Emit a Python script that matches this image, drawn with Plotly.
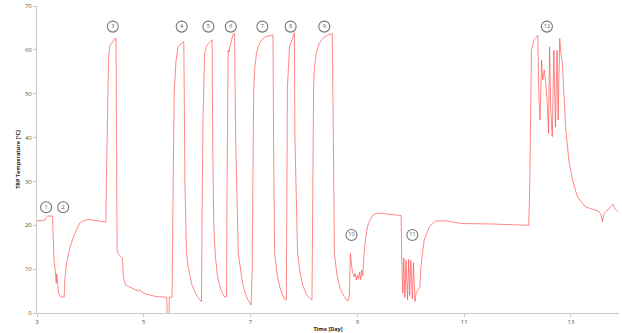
import plotly.graph_objects as go

time_day = [
    3.00, 3.10, 3.15, 3.18, 3.20, 3.29, 3.30, 3.32, 3.34, 3.355, 3.36, 3.37, 3.38, 3.40, 3.42, 3.44, 3.51,
    3.52, 3.555, 3.62, 3.71, 3.80, 3.88, 3.96, 4.10, 4.29,
    4.30, 4.32, 4.34, 4.36, 4.42, 4.46, 4.48, 4.50, 4.54, 4.58, 4.60, 4.62, 4.66, 4.72, 4.79, 4.85,
    4.90, 4.93, 4.96, 5.02, 5.10, 5.21, 5.30, 5.43, 5.44, 5.47, 5.48, 5.53,
    5.55, 5.57, 5.60, 5.64, 5.68, 5.71, 5.75, 5.77, 5.80, 5.83, 5.86, 5.90, 5.95, 6.00, 6.05, 6.08,
    6.09, 6.11, 6.14, 6.18, 6.23, 6.26, 6.28, 6.29, 6.31, 6.34, 6.38, 6.42, 6.46, 6.51, 6.55,
    6.56, 6.58, 6.60, 6.61, 6.65, 6.68, 6.70, 6.72, 6.77, 6.81, 6.85, 6.90, 6.95, 7.01,
    7.03, 7.05, 7.06, 7.08, 7.11, 7.15, 7.20, 7.28, 7.36, 7.42, 7.43, 7.45, 7.50, 7.55, 7.60, 7.65, 7.67,
    7.68, 7.69, 7.73, 7.78, 7.82, 7.83, 7.88, 7.93, 7.98, 8.05, 8.13, 8.15,
    8.17, 8.18, 8.20, 8.23, 8.28, 8.35, 8.43, 8.51, 8.53, 8.55, 8.57, 8.62, 8.68, 8.75, 8.82,
    8.85, 8.87, 8.89, 8.91, 8.94, 8.96, 8.98, 9.00, 9.02, 9.04, 9.06, 9.08, 9.10,
    9.13, 9.16, 9.19, 9.24, 9.29, 9.35, 9.41, 9.60, 9.82,
    9.83, 9.85, 9.87, 9.89, 9.91, 9.94, 9.96, 9.98, 10.00, 10.03, 10.05, 10.08, 10.10, 10.12, 10.15, 10.17,
    10.19, 10.25, 10.35, 10.47, 10.66, 10.97, 11.50, 12.00, 12.21,
    12.23, 12.24, 12.26, 12.31, 12.38, 12.40, 12.42, 12.45, 12.47, 12.50, 12.53, 12.56, 12.58, 12.60,
    12.62, 12.65, 12.68, 12.71, 12.74, 12.76, 12.79, 12.81, 12.84,
    12.90, 12.96, 13.03, 13.12, 13.27, 13.43, 13.52, 13.56, 13.59, 13.62, 13.71, 13.75, 13.79, 13.82, 13.89,
]

trp_temp_c = [
    21.0, 21.1, 21.2, 21.9, 22.1, 22.1, 16.0, 12.0, 9.8, 8.0, 6.8, 8.9, 6.5, 4.8, 4.1, 3.7, 3.6,
    7.5, 11.4, 15.1, 18.2, 20.5, 21.1, 21.3, 21.1, 20.7,
    30.0, 50.0, 58.0, 60.8, 62.0, 62.5, 62.7, 14.0, 13.2, 12.8, 12.5, 8.0, 6.4, 6.0, 5.6, 5.4,
    5.0, 5.3, 4.8, 4.4, 4.1, 3.8, 3.7, 3.6, -1.0, -1.0, 3.6, 3.6,
    30.0, 50.0, 57.0, 60.7, 61.2, 61.5, 61.9, 30.0, 13.7, 10.5, 8.5, 6.5, 5.0, 3.8, 3.0, 2.6,
    20.0, 45.0, 59.2, 61.0, 61.6, 62.0, 62.3, 40.0, 20.0, 13.0, 8.5, 6.2, 4.8, 3.7, 3.7,
    30.0, 59.9, 59.5, 60.5, 62.5, 63.7, 63.7, 40.0, 13.6, 9.5, 6.8, 4.5, 3.0, 1.8,
    10.0, 40.0, 51.5, 56.0, 59.2, 61.0, 62.2, 63.0, 63.3, 63.4, 40.0, 13.6, 8.5, 5.8, 4.0, 3.0, 3.0,
    30.0, 51.5, 60.7, 62.8, 63.9, 40.0, 13.6, 9.0, 6.2, 4.2, 3.1, 3.1,
    35.0, 51.5, 56.5, 59.2, 61.3, 62.6, 63.3, 63.7, 63.7, 40.0, 13.6, 8.5, 5.5, 3.8, 2.7,
    4.0, 13.6, 11.0, 9.4, 8.2, 9.0, 7.5, 8.6, 7.8, 9.3, 7.6, 9.8, 8.5,
    14.4, 17.5, 19.7, 21.3, 22.3, 22.7, 22.8, 22.5, 22.2,
    12.8, 4.5, 12.5, 3.5, 12.0, 3.0, 12.2, 4.0, 12.0, 3.2, 11.5, 2.6, 4.5, 5.0, 5.5, 6.0,
    10.5, 16.6, 19.7, 21.0, 21.0, 20.4, 20.3, 20.2, 20.0,
    30.0, 48.5, 59.9, 62.3, 63.3, 49.3, 44.0, 57.6, 53.1, 55.4, 52.3, 47.0, 40.9, 60.7,
    47.0, 40.2, 59.9, 42.4, 59.9, 44.0, 62.6, 59.2, 56.9,
    42.4, 34.9, 30.3, 26.5, 24.2, 23.5, 23.2, 22.5, 20.8, 22.7, 23.8, 24.3, 24.8, 23.8, 23.1,
]

label_x = [3.17, 3.49, 4.42, 5.71, 6.21, 6.63, 7.22, 7.75, 8.38, 8.89, 10.03, 12.55]
label_y = [24.1, 24.1, 65.3, 65.3, 65.3, 65.3, 65.3, 65.3, 65.3, 17.8, 17.8, 65.3]
label_text = ["1", "2", "3", "4", "5", "6", "7", "8", "9", "10", "11", "12"]

x_ticks = [3, 5, 7, 9, 11, 13]
y_ticks = [0, 10, 20, 30, 40, 50, 60, 70]

fig = go.Figure()
fig.add_trace(go.Scatter(
    x=time_day, y=trp_temp_c, mode="lines",
    line=dict(color="rgba(255,70,70,0.65)", width=1),
    hoverinfo="skip", showlegend=False,
))
fig.add_trace(go.Scatter(
    x=label_x, y=label_y, mode="markers+text", text=label_text,
    textposition="middle center",
    textfont=dict(size=5.5, color="#555555", family="Open Sans"),
    marker=dict(symbol="circle-open", size=11, color="#777777", line=dict(width=1.1, color="#777777")),
    hoverinfo="skip", showlegend=False, cliponaxis=False,
))

fig.update_layout(
    width=622, height=333,
    margin=dict(l=37, r=3, t=6, b=20),
    paper_bgcolor="white", plot_bgcolor="white",
    font=dict(family="Open Sans", size=6, color="#555555"),
)
fig.update_xaxes(
    range=[3, 13.9], tickvals=x_ticks, ticktext=[str(v) for v in x_ticks],
    showgrid=False, zeroline=False, showline=True, linecolor="#c8c8c8", linewidth=1,
    ticks="outside", ticklen=3, tickcolor="#c8c8c8", tickfont=dict(size=6, color="#555555"),
    title=dict(text="<b>Time [Day]</b>", font=dict(size=5.5, color="#222222"), standoff=1),
    automargin=False,
)
fig.update_yaxes(
    range=[0, 70], tickvals=y_ticks, ticktext=[str(v) for v in y_ticks],
    showgrid=False, zeroline=False, showline=True, linecolor="#c8c8c8", linewidth=1,
    ticks="outside", ticklen=3, tickcolor="#c8c8c8", tickfont=dict(size=6, color="#555555"),
    title=dict(text="<b>TRP Temperature [°C]</b>", font=dict(size=5.5, color="#222222"), standoff=3),
    automargin=False,
)

fig.write_html("out.html", config={"displayModeBar": False},
               post_script="document.body.style.margin='0';")
